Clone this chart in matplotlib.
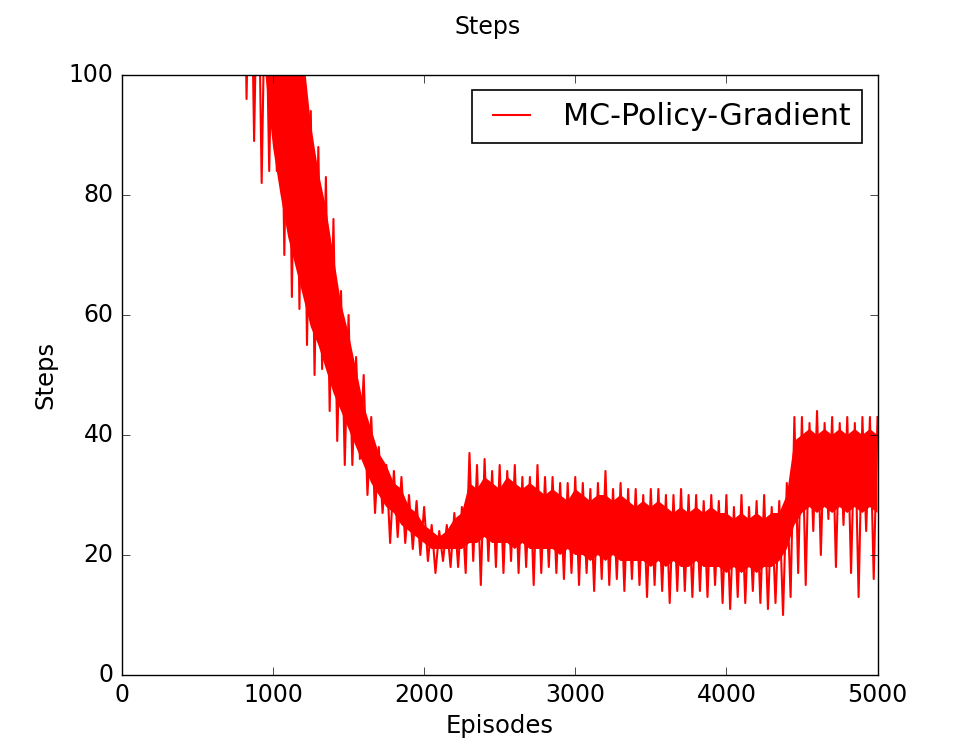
import numpy as np
import matplotlib
matplotlib.use('Agg')
import matplotlib.pyplot as plt

plt.style.use('classic')

# sampled every 25 episodes, alternating the upper and lower spikes of the noisy curve
episodes = np.arange(0, 5001, 25)
steps = [250, 200, 240, 190, 230, 185, 220, 180,
         210, 175, 200, 170, 195, 165, 190, 160,
         185, 155, 180, 150, 175, 145, 170, 140,
         165, 135, 160, 130, 155, 125, 150, 120,
         140, 96, 130, 89, 125, 82, 120, 84,
         118, 84, 115, 70, 112, 63, 110, 61,
         104, 55, 94, 50, 88, 51, 83, 44,
         76, 39, 64, 35, 60, 35, 53, 36,
         50, 30, 43, 27, 38, 27, 35, 22,
         34, 23, 33, 22, 30, 21, 29, 20,
         28, 19, 25, 17, 24, 19, 25, 18,
         27, 18, 28, 17, 37, 19, 35, 15,
         36, 19, 34, 18, 35, 17, 34, 19,
         35, 17, 33, 18, 33, 15, 35, 17,
         33, 18, 33, 17, 32, 16, 32, 17,
         33, 15, 32, 17, 31, 14, 32, 16,
         34, 15, 31, 16, 32, 14, 31, 16,
         31, 15, 30, 13, 31, 15, 31, 14,
         30, 12, 30, 14, 31, 14, 30, 13,
         30, 14, 29, 13, 30, 15, 29, 12,
         30, 11, 28, 13, 30, 12, 28, 14,
         29, 12, 30, 11, 28, 12, 29, 10,
         32, 13, 43, 17, 43, 15, 42, 24,
         44, 20, 42, 26, 43, 18, 42, 25,
         43, 17, 42, 13, 43, 24, 43, 16,
         43]

# dense (saturated) core of the curve, every 50 episodes
core_episodes = np.arange(0, 5001, 50)
core_lo = [150] * 18 + [
    110, 100, 88, 80, 73, 68, 63, 58, 55, 51, 47, 44,
    41, 38, 35, 32, 30, 28, 27, 25, 24, 23, 22, 21,
    21, 21, 21, 21, 22, 22, 23, 22, 22, 22, 21, 22,
    21, 21, 21, 21, 20, 21, 20, 20, 19, 20, 19, 20,
    19, 19, 19, 19, 18, 19, 18, 19, 18, 18, 19, 18,
    18, 18, 17, 18, 17, 18, 17, 18, 18, 19, 21, 25,
    27, 28, 27, 28, 27, 28, 27, 28, 27, 28, 27]
core_hi = [200] * 22 + [
    120, 112, 104, 92, 84, 78, 70, 62, 57, 51, 45, 41,
    37, 35, 32, 31, 28, 27, 25, 24, 23, 24, 26, 27,
    32, 31, 33, 32, 31, 33, 32, 31, 32, 31, 30, 31,
    30, 29, 31, 30, 29, 30, 30, 29, 30, 29, 28, 29,
    28, 29, 28, 27, 28, 27, 28, 27, 28, 27, 27, 26,
    27, 26, 27, 26, 27, 27, 30, 39, 40, 41, 40, 41,
    40, 41, 40, 41, 40, 41, 40]

fig = plt.figure(figsize=(9.75, 7.5), dpi=100, facecolor='white')
ax = fig.add_axes([0.125, 0.1, 0.775, 0.8])

ax.fill_between(core_episodes, core_lo, core_hi, color='r', lw=0)
ax.plot(episodes, steps, color='r', lw=1.5, label='MC-Policy-Gradient')

ax.set_xlim(0, 5000)
ax.set_ylim(0, 100)
ax.set_xticks([0, 1000, 2000, 3000, 4000, 5000])
ax.set_yticks([0, 20, 40, 60, 80, 100])
ax.tick_params(labelsize=17, size=6, direction='in', top=True, right=True, pad=6)

ax.set_xlabel('Episodes', fontsize=17.5)
ax.set_ylabel('Steps', fontsize=17.5, labelpad=8)
fig.suptitle('Steps', fontsize=17, y=0.98)

leg = ax.legend(loc='upper right', fontsize=21.7, handlelength=1.8, fancybox=False,
                borderaxespad=0.5)
leg.get_frame().set_linewidth(1.2)

fig.savefig('out.png', dpi=100, facecolor='white')
